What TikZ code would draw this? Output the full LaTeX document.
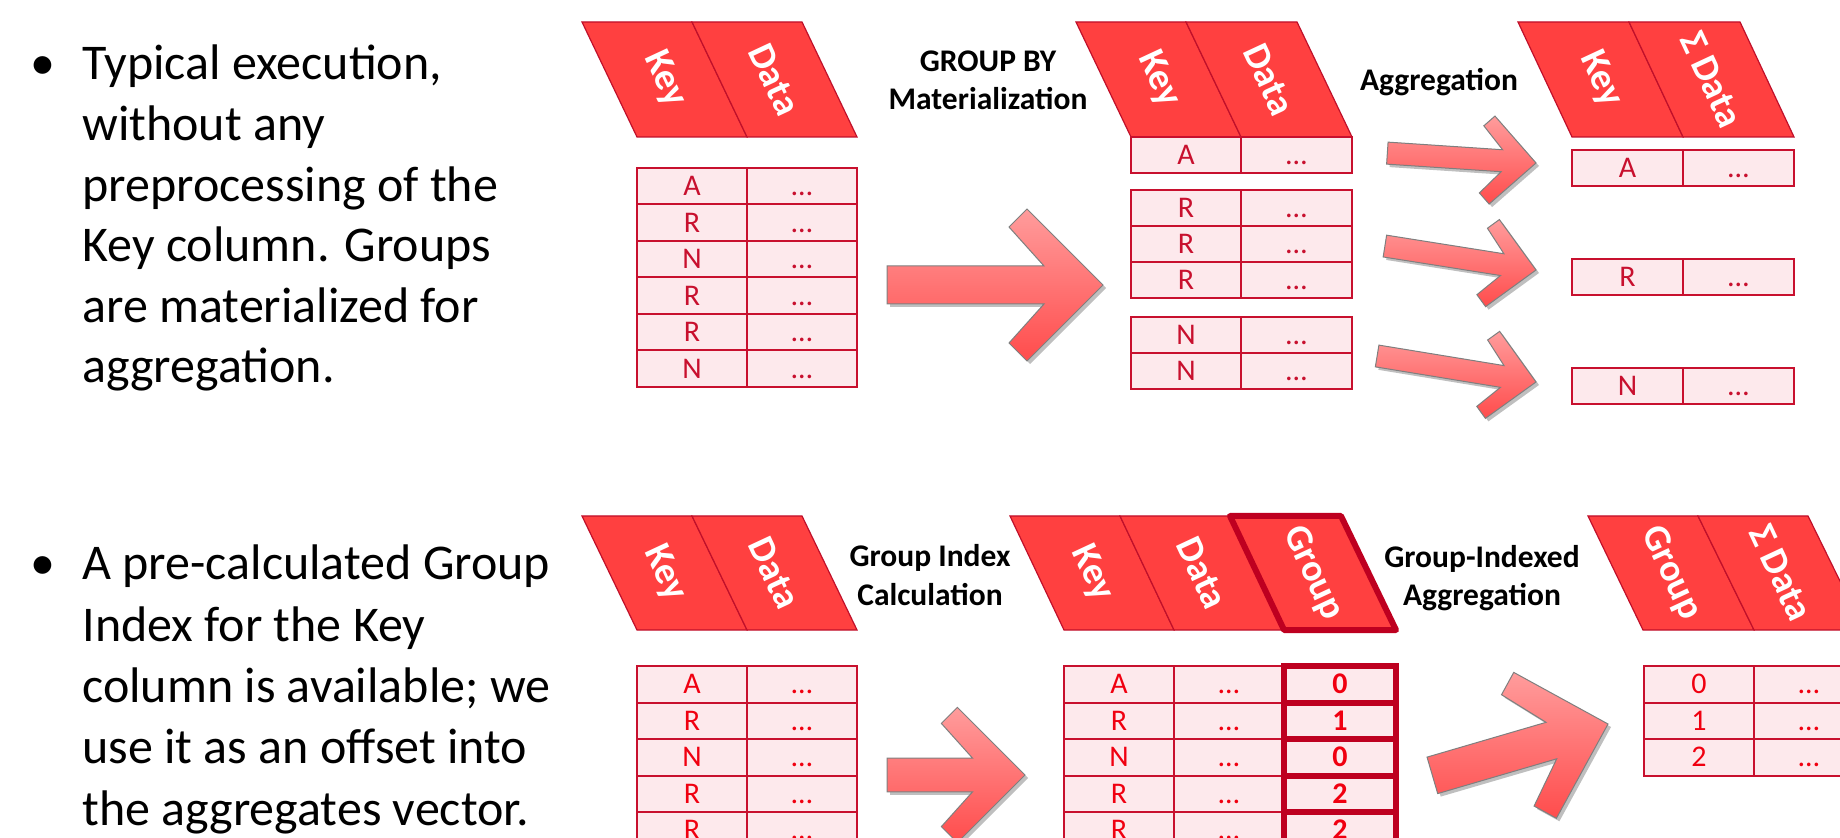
\documentclass[tikz,border=0pt]{standalone}
\usepackage{fontspec}
\setmainfont{Carlito}
\usetikzlibrary{shadows}
\definecolor{hdrred}{HTML}{FF4040}
\definecolor{hdrline}{HTML}{C0102A}
\definecolor{cellpink}{HTML}{FDE9EC}
\definecolor{cellline}{HTML}{C8102E}
\definecolor{txtdark}{HTML}{C8102E}
\definecolor{txtred}{HTML}{F00010}
\definecolor{grpline}{HTML}{BE0020}
\definecolor{arrtop}{HTML}{FF9C9C}
\definecolor{arrbot}{HTML}{FF4C4C}
\definecolor{arrline}{HTML}{7F7F7F}
\tikzset{
  hdr/.style={fill=hdrred, draw=hdrline, line width=0.6pt, line join=miter},
  hdrtxt/.style={text=white, font=\bfseries\fontsize{19}{22}\selectfont, rotate=-65, inner sep=0pt},
  cellbox/.style={fill=cellpink, draw=cellline, line width=1pt, inner sep=0pt, outer sep=0pt,
    minimum height=18.25pt, minimum width=55pt, text height=9.6pt, text depth=0pt,
    font=\fontsize{15}{17}\selectfont, anchor=north west},
  topc/.style={cellbox, text=txtdark},
  botc/.style={cellbox, text=txtred},
  grpc/.style={cellbox, text=txtred, draw=grpline, line width=3pt, font=\bfseries\fontsize{15}{17}\selectfont},
  grpframe/.style={draw=grpline, line width=3pt, line join=round},
  lbl/.style={font=\bfseries\fontsize{15.75}{19}\selectfont, inner sep=0pt, anchor=base},
  body/.style={font=\fontsize{25}{30}\selectfont, inner sep=0pt, anchor=base west},
  bul/.style={font=\fontsize{25}{30}\selectfont, inner sep=0pt, anchor=base},
  arr/.style={draw=arrline, line width=0.5pt, top color=arrtop, bottom color=arrbot,
    drop shadow={shadow xshift=1.5pt, shadow yshift=-1.5pt, opacity=0.25, fill=black}},
}
% block arrow: tip x, tip y, rotation, scale k, length L
\newcommand\blockarr[5]{%
  \begin{scope}[shift={(#1,#2)}, rotate=#3]
    \path[arr] (-#5,{-19*#4}) -- ({-59*#4},{-19*#4}) -- ({-94*#4},{-58*#4}) -- ({-76*#4},{-76*#4})
      -- (0,0) -- ({-76*#4},{76*#4}) -- ({-94*#4},{58*#4}) -- ({-59*#4},{19*#4}) -- (-#5,{19*#4}) -- cycle;
  \end{scope}}
% header column: top-left x, top-right x, bottom-left x, bottom-right x, top y, bottom y
\newcommand\hcol[6]{\draw[hdr] (#3,#6) -- (#4,#6) -- (#2,#5) -- (#1,#5) -- cycle;}
\begin{document}
\begin{tikzpicture}[x=0.5pt,y=-0.5pt]
\useasboundingbox (0,0) rectangle (1840,838);
\clip (0,0) rectangle (1840,838);

% ---------- bullet texts ----------
\node[bul] (b1) at (43,80) {•};
\node[body] (t1a) at (82,80) {Typical execution,};
\node[body] (t1b) at (82,140.6) {without any};
\node[body] (t1c) at (82,201.2) {preprocessing of the};
\node[body] (t1d) at (82,261.8) {Key column. Groups};
\node[body] (t1e) at (82,322.4) {are materialized for};
\node[body] (t1f) at (82,383) {aggregation.};

\node[bul] (b2) at (43,580) {•};
\node[body] (t2a) at (82,580) {A pre-calculated Group};
\node[body] (t2b) at (82,641.25) {Index for the Key};
\node[body] (t2c) at (82,702.5) {column is available; we};
\node[body] (t2d) at (82,763.75) {use it as an offset into};
\node[body] (t2e) at (82,825) {the aggregates vector.};

% ---------- arrows ----------
\blockarr{1103}{285}{0}{1}{216}
\blockarr{1536}{163}{-3.8}{0.58}{149}
\blockarr{1536}{270}{-9}{0.58}{153}
\blockarr{1536}{382}{-9.3}{0.58}{161}
\blockarr{1025}{775}{0}{0.89}{138}
\blockarr{1608}{724}{16.3}{1}{183}

% ---------- top row ----------
% H1
\hcol{582}{692}{637}{747}{22}{137}
\hcol{692}{802}{747}{857}{22}{137}
\node[hdrtxt] (h1k) at (664.5,79.5) {Key};
\node[hdrtxt] (h1d) at (774.5,79.5) {Data};
\foreach \v [count=\i] in {A,R,N,R,R,N} {
  \pgfmathsetmacro\yy{168+(\i-1)*36.5}
  \node[topc] (ta-k\i) at (637,\yy) {\v};
  \node[topc] (ta-d\i) at (747,\yy) {…};
}
\node[lbl] (l1a) at (988,72) {GROUP BY};
\node[lbl] (l1b) at (988,110) {Materialization};

% H2
\hcol{1076}{1186}{1131}{1241}{22}{137}
\hcol{1186}{1297}{1241}{1352}{22}{137}
\node[hdrtxt] (h2k) at (1158.5,79.5) {Key};
\node[hdrtxt] (h2d) at (1269,79.5) {Data};
\foreach \v/\yy [count=\i] in {A/137,R/190,R/226,R/262,N/317,N/353} {
  \node[topc, minimum height=18pt] (tb-k\i) at (1131,\yy) {\v};
  \node[topc, minimum height=18pt, minimum width=55.5pt] (tb-d\i) at (1241,\yy) {…};
}
\node[lbl] (l2) at (1439,91) {Aggregation};

% H3
\hcol{1518}{1629}{1572}{1683}{22}{137}
\hcol{1629}{1740}{1683}{1794}{22}{137}
\node[hdrtxt] (h3k) at (1600.5,79.5) {Key};
\node[hdrtxt] (h3d) at (1711.5,79.5) {Σ Data};
\foreach \v/\yy [count=\i] in {A/150,R/259,N/368} {
  \node[topc, minimum height=18pt, minimum width=55.5pt] (tc-k\i) at (1572,\yy) {\v};
  \node[topc, minimum height=18pt, minimum width=55.5pt] (tc-d\i) at (1683,\yy) {…};
}

% ---------- bottom row ----------
% H4
\hcol{582}{692}{637}{747}{516}{630}
\hcol{692}{802}{747}{857}{516}{630}
\node[hdrtxt] (h4k) at (664.5,573) {Key};
\node[hdrtxt] (h4d) at (774.5,573) {Data};
\foreach \v [count=\i] in {A,R,N,R,R} {
  \pgfmathsetmacro\yy{666+(\i-1)*36.5}
  \node[botc] (td-k\i) at (637,\yy) {\v};
  \node[botc] (td-d\i) at (747,\yy) {…};
}
\node[lbl] (l3a) at (930,567) {Group Index};
\node[lbl] (l3b) at (930,605) {Calculation};

% H5
\hcol{1010}{1120}{1064}{1174}{516}{630}
\hcol{1120}{1230}{1174}{1284}{516}{630}
\hcol{1230}{1341}{1284}{1396}{516}{630}
\draw[grpframe] (1284,630) -- (1396,630) -- (1341,516) -- (1230,516) -- cycle;
\node[hdrtxt] (h5k) at (1092,573) {Key};
\node[hdrtxt] (h5d) at (1202,573) {Data};
\node[hdrtxt] (h5g) at (1312.75,573) {Group};
\foreach \v/\g [count=\i] in {A/0,R/1,N/0,R/2,R/2} {
  \pgfmathsetmacro\yy{666+(\i-1)*36.5}
  \node[botc] (te-k\i) at (1064,\yy) {\v};
  \node[botc] (te-d\i) at (1174,\yy) {…};
  \node[grpc, minimum width=56pt] (te-g\i) at (1284,\yy) {\g};
}
\node[lbl] (l4a) at (1482,568) {Group-Indexed};
\node[lbl] (l4b) at (1482,606) {Aggregation};

% H6
\hcol{1588}{1698}{1643}{1754}{516}{630}
\hcol{1698}{1808}{1754}{1864}{516}{630}
\node[hdrtxt] (h6g) at (1670.75,573) {Group};
\node[hdrtxt] (h6d) at (1781,573) {Σ Data};
\foreach \v [count=\i] in {0,1,2} {
  \pgfmathsetmacro\yy{666+(\i-1)*36.5}
  \node[botc] (tf-k\i) at (1644,\yy) {\v};
  \node[botc] (tf-d\i) at (1754,\yy) {…};
}
\end{tikzpicture}
\end{document}
